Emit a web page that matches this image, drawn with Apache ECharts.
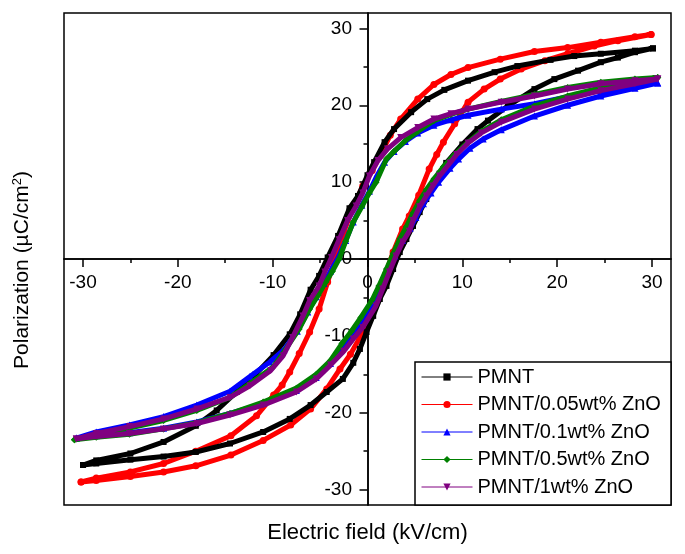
<!DOCTYPE html>
<html><head><meta charset="utf-8">
<script src="https://cdn.jsdelivr.net/npm/echarts@6/dist/echarts.min.js"></script>
<style>html,body{margin:0;padding:0;background:#fff}#c{width:685px;height:554px}</style>
</head><body><div id="c"></div>
<script>
// ---- data (Electric field kV/cm, Polarization µC/cm²) ----
const seriesNames = ['PMNT', 'PMNT/0.05wt% ZnO', 'PMNT/0.1wt% ZnO', 'PMNT/0.5wt% ZnO', 'PMNT/1wt% ZnO'];
const xMajorTicks = [-30, -20, -10, 0, 10, 20, 30];
const xMinorTicks = [-25, -15, -5, 5, 15, 25];
const yMajorTicks = [-30, -20, -10, 0, 10, 20, 30];
const yMinorTicks = [-25, -15, -5, 5, 15, 25];

const pmntUpper = [[30.1,27.4],[28.2,27.1],[24.6,26.7],[21.8,26.4],[19.3,25.9],[15.8,25.1],[13.4,24.3],[10.6,23.2],[8.1,22.0],[6.3,20.8],[4.6,19.1],[2.8,16.9],[1.8,15.2],[0.7,12.6],[0,10.9],[-1.0,8.2],[-1.9,6.6],[-3.1,3.0],[-4.2,0.2],[-5.1,-2.2],[-6.0,-4.0],[-7.1,-7.2],[-8.2,-9.8],[-9.9,-12.5],[-11.8,-15.0],[-13.8,-17.3],[-15.9,-19.7],[-18.1,-21.7],[-21.5,-23.8],[-25,-25.3],[-28.6,-26.2],[-30,-26.8]];
const pmntLower = [[-30,-26.8],[-28.6,-26.6],[-25,-26.1],[-21.5,-25.7],[-18.1,-25.1],[-14.5,-24.0],[-11,-22.5],[-8.2,-20.8],[-6.0,-19.0],[-4.3,-17.3],[-2.6,-15.6],[-1.5,-13.5],[-0.8,-11.7],[-0.1,-9.5],[0.6,-7.4],[1.3,-5.2],[2.0,-3.5],[2.7,-1.3],[3.4,0.9],[4.1,2.6],[4.8,4.3],[5.5,6.1],[6.2,7.8],[6.9,9.5],[7.6,11.1],[8.3,12.5],[10,14.9],[11.6,16.9],[12.7,18.0],[14.8,19.9],[17.6,22.1],[19.7,23.4],[22.2,24.5],[24.6,25.6],[26.4,26.2],[28.2,26.9],[30.1,27.4]];

const zno005Upper = [[29.9,29.2],[28.2,28.9],[24.6,28.2],[21.1,27.5],[17.6,27.0],[14.0,26.0],[10.6,24.9],[8.8,24.0],[7.0,22.7],[5.3,20.8],[3.5,18.2],[2.4,16.1],[1.4,13.6],[0.5,11.5],[-0.5,9.5],[-1.5,6.8],[-2.5,3.5],[-3.3,0.5],[-4.2,-3.0],[-5.1,-6.5],[-6.1,-9.5],[-7.2,-12.3],[-8.2,-14.7],[-9.0,-16.4],[-9.9,-17.7],[-11.7,-20.4],[-14.4,-23.0],[-18.1,-25.0],[-21.5,-26.6],[-25,-27.7],[-28.6,-28.5],[-30.2,-29.0]];
const zno005Lower = [[-30.2,-29.0],[-28.6,-28.8],[-25,-28.3],[-21.5,-27.7],[-18.1,-26.9],[-14.4,-25.5],[-11,-23.6],[-8.1,-21.6],[-6.0,-19.5],[-4.3,-16.9],[-2.9,-14.3],[-1.8,-12.4],[-0.8,-10.2],[0.2,-7.5],[1.0,-5.0],[1.9,-2.0],[2.7,0.9],[3.7,3.9],[4.4,5.6],[5.4,8.3],[6.5,11.7],[7.3,13.6],[8.0,15.2],[9.2,17.6],[10.6,20.4],[12.3,22.1],[14.0,23.4],[16.2,24.7],[18.7,25.8],[21.1,26.7],[23.9,27.7],[26.4,28.4],[29.9,29.2]];

const zno01Upper = [[30.6,22.9],[28.2,22.5],[24.6,21.9],[21.1,21.1],[17.6,20.2],[14.1,19.5],[10.6,18.7],[8.8,18.1],[7.0,17.4],[5.3,16.4],[4.0,15.3],[2.8,14.0],[1.8,12.6],[0.9,10.6],[0.2,8.8],[-0.6,7.0],[-1.5,4.8],[-2.3,2.4],[-3.1,0.2],[-3.9,-1.6],[-4.6,-3.2],[-5.4,-4.9],[-6.3,-6.9],[-7.4,-9.4],[-8.8,-11.8],[-10.3,-13.4],[-12.4,-15.3],[-14.5,-17.2],[-18.0,-19.0],[-21.5,-20.5],[-25.1,-21.6],[-28.6,-22.5],[-30.7,-23.3]];
const zno01Lower = [[-30.7,-23.3],[-28.6,-23.0],[-25.1,-22.6],[-21.5,-22.0],[-18.0,-21.2],[-14.5,-20.1],[-11.0,-18.8],[-7.5,-17.1],[-5.4,-15.4],[-3.9,-13.6],[-2.5,-11.5],[-1.5,-9.8],[-0.5,-8.1],[0.5,-5.9],[1.3,-3.9],[2.1,-1.7],[2.9,0.4],[3.7,2.4],[4.5,4.0],[5.1,5.4],[5.9,7.2],[6.7,8.6],[7.5,10.0],[8.7,11.8],[9.6,13.0],[10.8,14.4],[12.2,15.6],[14.1,16.8],[17.6,18.6],[21.1,20.0],[24.6,21.2],[28.2,22.2],[30.6,22.9]];

const zno05Upper = [[30.6,23.6],[28.2,23.4],[24.6,23.0],[21.1,22.3],[17.6,21.4],[14.1,20.5],[10.6,19.5],[8.8,18.8],[7.0,18.0],[5.3,16.6],[4.0,15.4],[2.8,14.0],[2.0,13.0],[0.9,10.0],[0.2,8.6],[-0.6,6.8],[-1.5,4.8],[-2.3,2.3],[-3.0,0.0],[-3.7,-1.6],[-4.4,-3.0],[-5.2,-4.7],[-6.1,-6.5],[-7.2,-9.1],[-8.6,-11.7],[-10.0,-14.1],[-12.4,-16.2],[-14.5,-18.0],[-18.0,-19.7],[-21.5,-21.0],[-25.1,-22.0],[-28.6,-22.9],[-30.9,-23.5]];
const zno05Lower = [[-30.9,-23.5],[-28.6,-23.2],[-25.1,-22.8],[-21.5,-22.1],[-18.0,-21.3],[-14.5,-20.1],[-11.0,-18.6],[-7.5,-16.8],[-5.4,-15.0],[-3.9,-13.2],[-2.7,-11.0],[-1.7,-9.4],[-0.7,-7.6],[0.5,-5.3],[1.2,-3.5],[2.0,-1.3],[2.7,0.7],[3.4,2.6],[4.1,4.2],[4.8,6.0],[5.5,7.6],[6.2,9.0],[7.0,10.4],[8.0,12.0],[9.2,13.6],[10.6,15.2],[12.0,16.6],[14.1,18.1],[17.6,19.9],[21.1,21.2],[24.6,22.3],[28.2,23.1],[30.6,23.6]];

const zno1Upper = [[30.6,23.4],[28.2,23.2],[24.6,22.8],[21.1,22.1],[17.6,21.2],[14.1,20.4],[10.6,19.5],[8.8,18.9],[7.0,18.2],[5.3,17.1],[3.5,15.8],[2.1,14.3],[1.1,12.8],[0.2,10.8],[-0.5,8.6],[-1.2,6.9],[-2.1,5.0],[-3.0,2.5],[-3.8,0.2],[-4.5,-1.7],[-5.1,-3.5],[-6.1,-5.4],[-6.8,-7.4],[-7.9,-10.2],[-8.9,-12.6],[-10.2,-14.5],[-12.4,-16.5],[-14.5,-18.0],[-18.0,-19.5],[-21.5,-20.8],[-25.1,-21.8],[-28.6,-22.7],[-30.7,-23.4]];
const zno1Lower = [[-30.7,-23.4],[-28.6,-23.1],[-25.1,-22.7],[-21.5,-22.1],[-18.0,-21.4],[-14.5,-20.3],[-11.0,-19.0],[-7.5,-17.3],[-5.4,-15.6],[-3.9,-13.8],[-2.5,-12.0],[-1.5,-10.4],[-0.5,-8.9],[0.9,-6.1],[1.6,-3.9],[2.3,-1.7],[3.0,0.4],[3.7,2.2],[4.4,3.6],[4.8,5.0],[5.5,6.8],[6.2,8.2],[6.9,9.5],[7.6,10.8],[8.7,12.5],[9.4,13.6],[10.6,15.1],[12.0,16.4],[14.1,17.8],[17.6,19.5],[21.1,20.8],[24.6,21.9],[28.2,22.8],[30.6,23.4]];

const loops = [pmntUpper.concat(pmntLower), zno005Upper.concat(zno005Lower), zno01Upper.concat(zno01Lower), zno05Upper.concat(zno05Lower), zno1Upper.concat(zno1Lower)];
const colors = ['#000000', '#ff0000', '#0000ff', '#008000', '#800080'];
const symbols = ['rect', 'circle', 'triangle', 'diamond', 'path://M0,0 L10,0 L5,10 Z'];
const zs = [4, 3, 5, 6, 7];

const FONT = '"Liberation Sans", Arial, sans-serif';
const chart = echarts.init(document.getElementById('c'), null, {renderer: 'canvas'});

const majorAxis = (ticks, extra) => Object.assign({
  type: 'value', min: -32, max: 32, splitLine: {show: false},
  axisLine: {show: true, onZero: true, onZeroAxisIndex: 0, lineStyle: {color: '#000', width: 1.5}},
  axisTick: {show: true, length: 8, customValues: ticks, lineStyle: {color: '#000', width: 1.5}}
}, extra);
const minorAxis = (ticks, extra) => Object.assign({
  type: 'value', min: -32, max: 32, splitLine: {show: false},
  axisLine: {show: true, onZero: true, onZeroAxisIndex: 0, lineStyle: {color: '#000', width: 1.5}},
  axisTick: {show: true, length: 4, customValues: ticks, lineStyle: {color: '#000', width: 1.5}},
  axisLabel: {show: false}
}, extra);
const titleAxis = (extra) => Object.assign({
  type: 'value', min: -32, max: 32, splitLine: {show: false},
  axisLine: {show: false, onZero: false}, axisTick: {show: false}, axisLabel: {show: false},
  nameLocation: 'middle'
}, extra);

const option = {
  animation: false,
  backgroundColor: '#fff',
  grid: {left: 64, top: 13, right: 14, bottom: 49, show: true, borderColor: '#000', borderWidth: 1.5, containLabel: false, outerBoundsMode: 'none'},
  xAxis: [
    majorAxis(xMajorTicks, {position: 'bottom', axisLabel: {show: true, customValues: xMajorTicks, color: '#000', fontSize: 19, fontFamily: FONT, margin: -232}}),
    minorAxis(xMinorTicks, {position: 'bottom'}),
    titleAxis({position: 'bottom', name: 'Electric field (kV/cm)', nameGap: 17,
      nameTextStyle: {color: '#000', fontSize: 22, fontFamily: FONT}})
  ],
  yAxis: [
    majorAxis(yMajorTicks, {position: 'left', axisLabel: {show: true, customValues: yMajorTicks, color: '#000', fontSize: 19, fontFamily: FONT, margin: -288}}),
    minorAxis(yMinorTicks, {position: 'left'}),
    titleAxis({position: 'left', name: 'Polarization (µC/cm{sup|2})', nameGap: 30,
      nameTextStyle: {color: '#000', fontSize: 21, fontFamily: FONT, padding: [0, 22, 0, 0],
        rich: {sup: {fontSize: 13, fontFamily: FONT, color: '#000', verticalAlign: 'bottom', padding: [0, 0, 10, 0]}}}})
  ],
  legend: {
    orient: 'vertical', left: 421, top: 367, padding: 0, itemWidth: 51, itemHeight: 9, itemGap: 7.5,
    textStyle: {color: '#000', fontSize: 20, fontFamily: FONT, lineHeight: 20},
    lineStyle: {width: 1}, z: 20,
    data: seriesNames
  },
  graphic: [{type: 'rect', z: 10, shape: {x: 415, y: 362, width: 256, height: 143},
    style: {fill: '#fff', stroke: '#000', lineWidth: 1.5}}],
  series: loops.map((d, i) => ({
    name: seriesNames[i], type: 'line', data: d, xAxisIndex: 0, yAxisIndex: 0,
    symbol: symbols[i], symbolSize: i === 0 ? 6 : 7, showSymbol: true, z: zs[i],
    itemStyle: {color: colors[i]}, lineStyle: {color: colors[i], width: 5}
  }))
};
chart.setOption(option);
</script></body></html>
